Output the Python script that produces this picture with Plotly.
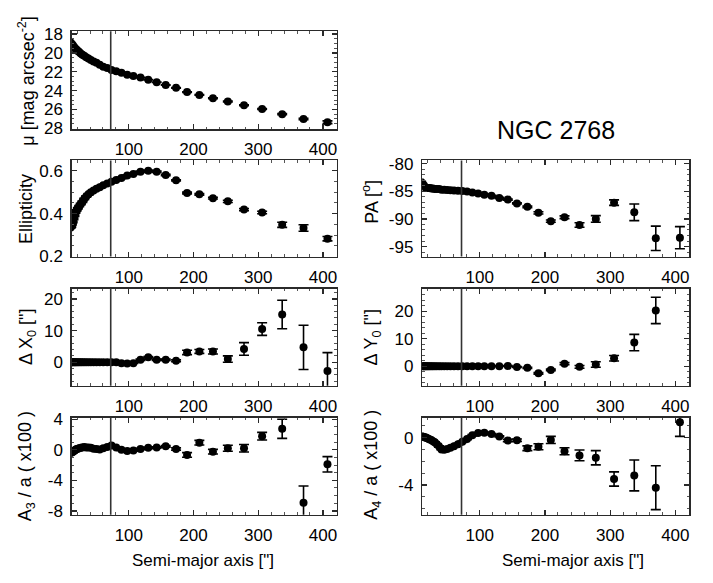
import plotly.graph_objects as go

# ---------------- data ----------------
radius = [10, 11, 12, 13.2, 14.5, 16, 17.5, 19.3, 21.2, 23.3,
          25.7, 28.2, 31, 34.1, 37.6, 41.3, 45.5, 50, 55, 60.5,
          66.6, 73.2, 80.5, 88.6, 97.5, 107, 118, 130, 143, 157,
          173, 190, 209, 230, 253, 278, 306, 337, 370, 407]

mu = [18.9, 19.0, 19.1, 19.2, 19.35, 19.45, 19.55, 19.65, 19.8, 19.9,
      20.05, 20.2, 20.3, 20.45, 20.6, 20.75, 20.9, 21.05, 21.25, 21.45,
      21.6, 21.8, 21.95, 22.1, 22.3, 22.45, 22.6, 22.85, 23.1, 23.4,
      23.7, 24.15, 24.45, 24.8, 25.15, 25.55, 25.95, 26.5, 27.0, 27.35]
mu_err = [0.02, 0.02, 0.02, 0.02, 0.02, 0.02, 0.02, 0.02, 0.02, 0.02,
          0.02, 0.02, 0.02, 0.02, 0.02, 0.02, 0.02, 0.02, 0.02, 0.02,
          0.02, 0.02, 0.02, 0.02, 0.02, 0.02, 0.02, 0.02, 0.02, 0.02,
          0.03, 0.03, 0.03, 0.04, 0.04, 0.05, 0.05, 0.06, 0.08, 0.15]

ellipticity = [0.335, 0.34, 0.35, 0.36, 0.375, 0.39, 0.405, 0.415, 0.425, 0.435,
               0.445, 0.455, 0.468, 0.48, 0.49, 0.50, 0.508, 0.516, 0.523, 0.532,
               0.54, 0.548, 0.557, 0.566, 0.578, 0.585, 0.595, 0.60, 0.595, 0.58,
               0.555, 0.496, 0.49, 0.472, 0.457, 0.419, 0.405, 0.348, 0.333, 0.283]
ell_err = [0.003, 0.003, 0.003, 0.003, 0.003, 0.003, 0.003, 0.003, 0.003, 0.003,
           0.003, 0.003, 0.003, 0.003, 0.003, 0.003, 0.003, 0.003, 0.003, 0.003,
           0.003, 0.003, 0.003, 0.003, 0.003, 0.003, 0.003, 0.003, 0.003, 0.003,
           0.003, 0.004, 0.004, 0.004, 0.005, 0.005, 0.006, 0.012, 0.015, 0.01]

delta_x0 = [0.0, 0.0, 0.0, 0.0, 0.0, 0.0, 0.0, 0.0, 0.0, 0.0,
            0.0, 0.0, 0.0, 0.0, 0.0, 0.0, 0.0, 0.0, 0.0, 0.0,
            0.0, 0.0, 0.0, -0.3, -0.4, -0.3, 0.8, 1.6, 0.8, 0.8,
            0.5, 3.1, 3.4, 3.4, 1.0, 4.2, 10.5, 15.1, 4.7, -2.75]
dx0_err = [0.1, 0.1, 0.1, 0.1, 0.1, 0.1, 0.1, 0.1, 0.1, 0.1,
           0.1, 0.1, 0.1, 0.1, 0.1, 0.1, 0.1, 0.1, 0.1, 0.1,
           0.1, 0.1, 0.1, 0.1, 0.1, 0.1, 0.2, 0.2, 0.2, 0.2,
           0.3, 0.7, 0.6, 0.8, 1.0, 2.0, 2.0, 4.5, 7.0, 5.8]

a3 = [-0.4, -0.4, -0.3, -0.3, -0.2, -0.1, 0.0, 0.1, 0.15, 0.2,
      0.25, 0.3, 0.35, 0.3, 0.3, 0.25, 0.15, 0.1, 0.05, 0.2,
      0.35, 0.55, 0.3, 0.0, -0.15, -0.1, 0.1, 0.25, 0.3, 0.45,
      0.1, -0.67, 0.93, -0.25, 0.2, 0.2, 1.77, 2.74, -6.94, -1.9]
a3_err = [0.1, 0.1, 0.1, 0.1, 0.1, 0.1, 0.1, 0.1, 0.1, 0.1,
          0.1, 0.1, 0.1, 0.1, 0.1, 0.1, 0.1, 0.1, 0.1, 0.1,
          0.1, 0.1, 0.1, 0.1, 0.1, 0.1, 0.1, 0.1, 0.1, 0.1,
          0.15, 0.3, 0.3, 0.3, 0.4, 0.5, 0.5, 1.25, 2.2, 1.0]

pa = [-83.3, -83.5, -83.7, -83.9, -84.1, -84.3, -84.3, -84.4, -84.4, -84.4,
      -84.5, -84.5, -84.6, -84.6, -84.6, -84.7, -84.7, -84.75, -84.8, -84.85,
      -84.9, -84.95, -85.05, -85.2, -85.4, -85.6, -85.8, -86.2, -86.5, -87.2,
      -87.8, -88.9, -90.4, -89.7, -91.1, -90.0, -87.05, -88.8, -93.5, -93.4]
pa_err = [0.1, 0.1, 0.1, 0.1, 0.1, 0.1, 0.1, 0.1, 0.1, 0.1,
          0.1, 0.1, 0.1, 0.1, 0.1, 0.1, 0.1, 0.1, 0.1, 0.1,
          0.1, 0.1, 0.1, 0.1, 0.1, 0.1, 0.1, 0.1, 0.1, 0.1,
          0.15, 0.2, 0.2, 0.25, 0.4, 0.6, 0.5, 1.5, 2.2, 2.0]

delta_y0 = [0.0, 0.0, 0.0, 0.0, 0.0, 0.0, 0.0, 0.0, 0.0, 0.0,
            0.0, 0.0, 0.0, 0.0, 0.0, 0.0, 0.0, 0.0, 0.0, 0.0,
            0.0, 0.0, 0.0, 0.0, 0.0, 0.0, 0.0, 0.0, 0.1, -0.3,
            -0.6, -2.6, -1.4, 0.9, -0.25, 0.6, 2.9, 8.6, 20.3, None]
dy0_err = [0.1, 0.1, 0.1, 0.1, 0.1, 0.1, 0.1, 0.1, 0.1, 0.1,
           0.1, 0.1, 0.1, 0.1, 0.1, 0.1, 0.1, 0.1, 0.1, 0.1,
           0.1, 0.1, 0.1, 0.1, 0.1, 0.1, 0.1, 0.1, 0.1, 0.2,
           0.2, 0.3, 0.3, 0.4, 0.5, 1.0, 1.0, 3.0, 4.8, 0.0]

a4 = [0.1, 0.1, 0.1, 0.05, 0.05, 0.0, 0.0, -0.05, -0.1, -0.15,
      -0.2, -0.3, -0.4, -0.55, -0.75, -1.0, -1.02, -0.95, -0.85, -0.72,
      -0.55, -0.35, -0.12, 0.2, 0.38, 0.4, 0.3, 0.1, -0.25, -0.22,
      -0.9, -0.77, -0.2, -1.15, -1.5, -1.7, -3.49, -3.19, -4.22, 1.3]
a4_err = [0.05, 0.05, 0.05, 0.05, 0.05, 0.05, 0.05, 0.05, 0.05, 0.05,
          0.05, 0.05, 0.05, 0.05, 0.05, 0.05, 0.05, 0.05, 0.05, 0.05,
          0.05, 0.05, 0.05, 0.05, 0.05, 0.05, 0.05, 0.05, 0.1, 0.1,
          0.2, 0.25, 0.3, 0.3, 0.45, 0.6, 0.6, 1.3, 1.85, 1.2]

x_ticks = [100, 200, 300, 400]
mark_radius = 72
galaxy = "NGC 2768"

# ---------------- figure ----------------
W, H = 713, 583
FONT = "Liberation Sans, Arial, Helvetica, sans-serif"

def px_x(p):
    return p / W

def px_y(p):
    return 1 - p / H

# column / row pixel boxes
left_col = (72, 337)
right_col = (423, 690)
rows = {1: (25, 126), 2: (158, 257), 3: (290, 390), 4: (423, 523)}

panels = [
    # (y data, err, col, row, y range, tickvals, ticktext, minor dtick, title, title x px, title y px)
    (mu, mu_err, left_col, 1, [28.1, 17.7], [18, 20, 22, 24, 26, 28],
     ["18", "20", "22", "24", "26", "28"], 0.5,
     "μ [mag arcsec<sup>-2</sup>]", 27, 76),
    (ellipticity, ell_err, left_col, 2, [0.2, 0.648], [0.2, 0.4, 0.6],
     ["0.2", "0.4", "0.6"], 0.05, "Ellipticity", 26, 208),
    (delta_x0, dx0_err, left_col, 3, [-7.4, 23.3], [0, 10, 20],
     ["0", "10", "20"], 2, "Δ X<sub>0</sub> [\"]", 27, 340),
    (a3, a3_err, left_col, 4, [-8.5, 4.2], [-8, -4, 0, 4],
     ["-8", "-4", "0", "4"], 1, "A<sub>3</sub> / a ( x100 )", 26, 473),
    (pa, pa_err, right_col, 2, [-96.8, -79.4], [-95, -90, -85, -80],
     ["-95", "-90", "-85", "-80"], 1, "PA [<sup>o</sup>]", 371, 200),
    (delta_y0, dy0_err, right_col, 3, [-7.1, 28.3], [0, 10, 20],
     ["0", "10", "20"], 2, "Δ Y<sub>0</sub> [\"]", 373, 340),
    (a4, a4_err, right_col, 4, [-6.5, 1.68], [-4, 0],
     ["-4", "0"], 1, "A<sub>4</sub> / a ( x100 )", 373, 471),
]

axis_common = dict(
    showline=True, linecolor="#2a2a2a", linewidth=1.6, mirror="ticks",
    ticks="inside", ticklen=5, tickwidth=1.3, tickcolor="#2a2a2a",
    showgrid=False, zeroline=False,
    tickfont=dict(family=FONT, size=17, color="black"),
    ticklabelstandoff=4,
)

fig = go.Figure()
layout = {}
annotations = []
shapes = []

for i, (yv, ye, col, row, yr, tv, tt, mdt, title, tx, ty) in enumerate(panels, start=1):
    xa = "x" if i == 1 else f"x{i}"
    ya = "y" if i == 1 else f"y{i}"
    xkey = "xaxis" if i == 1 else f"xaxis{i}"
    ykey = "yaxis" if i == 1 else f"yaxis{i}"
    r0, r1 = rows[row]

    fig.add_trace(go.Scatter(
        x=radius, y=yv, mode="markers", xaxis=xa, yaxis=ya,
        marker=dict(size=8, color="black", line=dict(width=0)),
        error_y=dict(type="data", array=ye, visible=True, color="black",
                     thickness=1.6, width=5),
        showlegend=False, cliponaxis=True,
    ))

    layout[xkey] = dict(
        axis_common, domain=[px_x(col[0]), px_x(col[1])], range=[12, 421],
        anchor=ya, tickvals=x_ticks, ticktext=[str(v) for v in x_ticks],
        minor=dict(ticks="inside", ticklen=2.5, dtick=20, tick0=0,
                   tickcolor="#555", tickwidth=1),
    )
    layout[ykey] = dict(
        axis_common, domain=[px_y(r1), px_y(r0)], range=yr, anchor=xa,
        tickvals=tv, ticktext=tt,
        minor=dict(ticks="inside", ticklen=2.5, dtick=mdt, tick0=0,
                   tickcolor="#555", tickwidth=1),
    )

    shapes.append(dict(type="line", xref=xa, yref=f"{ya} domain",
                       x0=mark_radius, x1=mark_radius, y0=0, y1=1,
                       line=dict(color="#333", width=1.6)))

    annotations.append(dict(
        text=title, textangle=-90, xref="paper", yref="paper",
        x=px_x(tx), y=px_y(ty), xanchor="center", yanchor="middle",
        showarrow=False, font=dict(family=FONT, size=18, color="black"),
    ))

# x-axis titles
for cx in (203, 574):
    annotations.append(dict(
        text="Semi-major axis [\"]", xref="paper", yref="paper",
        x=px_x(cx), y=px_y(570), xanchor="center", yanchor="middle",
        showarrow=False, font=dict(family=FONT, size=17, color="black"),
    ))

# galaxy name
annotations.append(dict(
    text=galaxy, xref="paper", yref="paper", x=px_x(557), y=px_y(127),
    xanchor="center", yanchor="middle", showarrow=False,
    font=dict(family=FONT, size=25, color="black"),
))

fig.update_layout(
    width=W, height=H, margin=dict(l=0, r=0, t=0, b=0),
    paper_bgcolor="white", plot_bgcolor="white",
    font=dict(family=FONT, size=17, color="black"),
    annotations=annotations, shapes=shapes, hovermode=False, **layout,
)

fig.write_html(
    "out.html",
    config={"displayModeBar": False, "staticPlot": True},
    post_script="document.body.style.margin='0';document.body.style.overflow='hidden';",
)
